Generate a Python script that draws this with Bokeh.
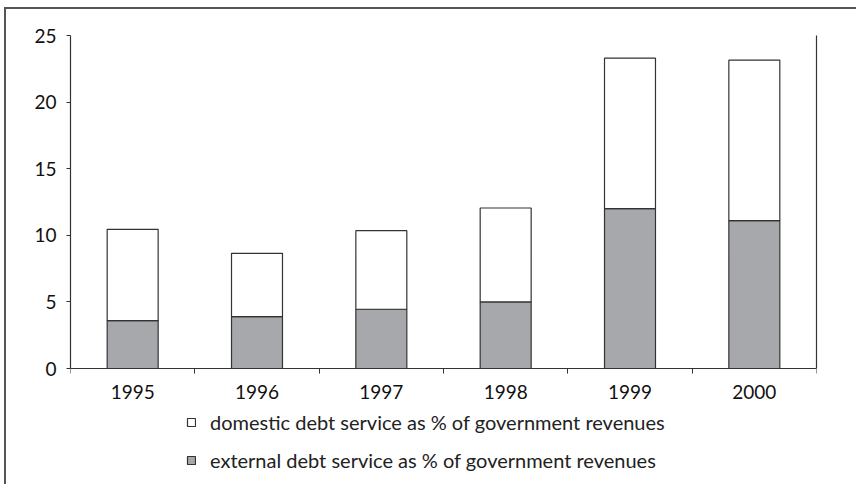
from bokeh.plotting import figure
from bokeh.models import Range1d, FixedTicker, Legend, LegendItem, LinearAxis, ColumnDataSource
from bokeh.embed import file_html
from bokeh.resources import INLINE

years = ["1995", "1996", "1997", "1998", "1999", "2000"]
external = [3.6, 3.9, 4.45, 5.0, 12.0, 11.1]
domestic = [6.85, 4.75, 5.9, 7.05, 11.3, 12.05]
y_ticks = [0, 5, 10, 15, 20, 25]
series_names = ["domestic debt service as % of government revenues",
                "external debt service as % of government revenues"]

FONT = "Lato"
DARK = "#333333"

# layout: value axis spans 333px for 0..25; 118px of room below the zero line
Y_MAX = 25
Y_MIN = -118 * Y_MAX / 333

xs = [i + 0.5 for i in range(len(years))]
src = ColumnDataSource(dict(x=xs, external=external, domestic=domestic))

p = figure(width=852, height=477, output_backend="svg", toolbar_location=None,
           x_range=Range1d(0, len(years)), y_range=Range1d(Y_MIN, Y_MAX))
p.min_border_left = 64
p.min_border_top = 26
p.min_border_right = 42
p.min_border_bottom = 0
p.outline_line_color = None
p.grid.visible = False
p.xaxis.visible = False
p.yaxis.visible = False

rs = p.vbar_stack(["external", "domestic"], x="x", width=0.41, source=src,
                  fill_color=["#a7a8ab", "white"], line_color=DARK, line_width=1.2)

yax = LinearAxis(ticker=FixedTicker(ticks=y_ticks, minor_ticks=[]), bounds=(0, Y_MAX))
yax.axis_line_color = DARK
yax.axis_line_width = 1.2
yax.major_tick_in = 0
yax.major_tick_out = 4
yax.major_tick_line_color = DARK
yax.minor_tick_line_color = None
yax.major_label_text_font = FONT
yax.major_label_text_font_size = "19px"
yax.major_label_text_color = "#111111"
yax.major_label_standoff = 10
p.add_layout(yax, "left")

rax = LinearAxis(ticker=FixedTicker(ticks=[], minor_ticks=[]), bounds=(0, Y_MAX))
rax.axis_line_color = DARK
rax.axis_line_width = 1.2
rax.major_tick_line_color = None
rax.minor_tick_line_color = None
rax.major_label_text_font_size = "0px"
p.add_layout(rax, "right")

xax = LinearAxis(ticker=FixedTicker(ticks=xs, minor_ticks=list(range(len(years) + 1))),
                 fixed_location=0)
xax.axis_line_color = DARK
xax.axis_line_width = 1.2
xax.major_tick_line_color = None
xax.minor_tick_line_color = DARK
xax.minor_tick_in = 0
xax.minor_tick_out = 5
xax.major_label_overrides = {x: y for x, y in zip(xs, years)}
xax.major_label_text_font = FONT
xax.major_label_text_font_size = "19px"
xax.major_label_text_color = "#111111"
xax.major_label_standoff = 10
p.add_layout(xax, "below")

legend = Legend(items=[LegendItem(label=series_names[0], renderers=[rs[1]]),
                       LegendItem(label=series_names[1], renderers=[rs[0]])],
                location=(116, 14), orientation="vertical")
legend.border_line_color = None
legend.background_fill_alpha = 0
legend.padding = 0
legend.margin = 0
legend.spacing = 14
legend.glyph_width = 10
legend.glyph_height = 10
legend.label_height = 22
legend.label_standoff = 14
legend.label_text_font = FONT
legend.label_text_font_size = "20px"
legend.label_text_color = "#222222"
p.add_layout(legend, "center")

p.styles = {"border-left": "2px solid #555555", "border-top": "2px solid #555555",
            "margin-left": "4px", "margin-top": "7px"}

open("out.html", "w").write(file_html(p, INLINE))
